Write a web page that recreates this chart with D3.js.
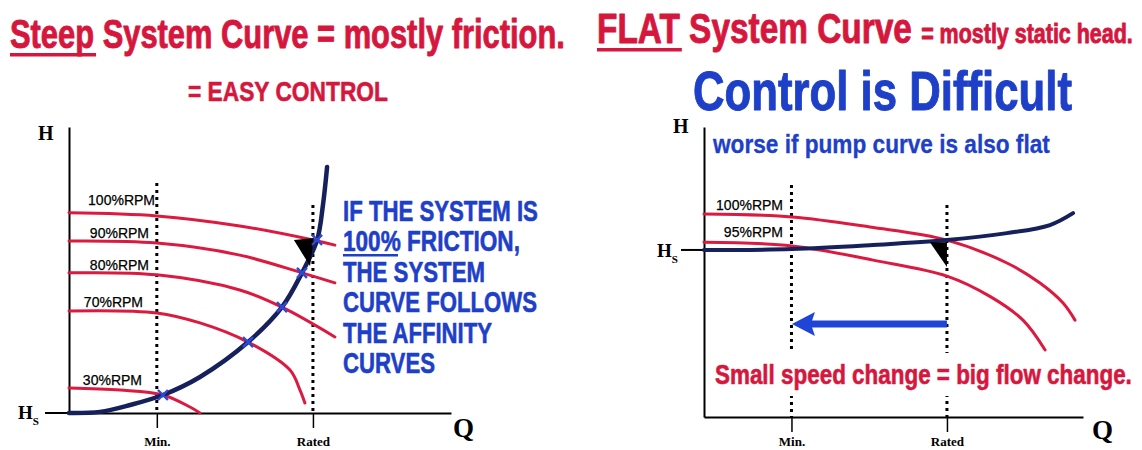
<!DOCTYPE html>
<html>
<head>
<meta charset="utf-8">
<script src="https://cdn.jsdelivr.net/npm/d3@7"></script>
<style>
  body { margin: 0; background: #fff; }
  svg { display: block; }
</style>
</head>
<body>
<div id="chart"></div>
<script>
// ---- data (Q = % of rated flow, H = head units) ----
const qTicks = [36, 100];
const qTickLabels = ["Min.", "Rated"];

// left: steep system curve
const pump100L = [[0,70],[36,68.9],[70,65.4],[100,60.5],[109,58.7]];
const pump90L  = [[0,60.1],[36,59.4],[70,55.2],[95.5,49],[109,45.5]];
const pump80L  = [[0,49],[36,48.3],[70,43],[87.3,37],[109,26.6]];
const pump70L  = [[0,35.7],[36,35],[53.7,31.5],[73.4,24.8],[90.6,15],[94.7,8],[96.7,3.5]];
const pump30L  = [[0,8.7],[21,8],[38.5,6.3],[49.6,2.1],[53.7,0]];
const pumpNamesL = ["100%RPM", "90%RPM", "80%RPM", "70%RPM", "30%RPM"];
const systemL = [[0,0],[12.7,0.4],[25,2.8],[38.5,6.3],[53.7,12.6],[73.4,24.8],[87.3,37],[95.5,49],[101.7,60.5],[104.1,72.7],[105.8,86]];
const crossL = [[38.5,6.3],[73.4,24.8],[87.3,37],[95.5,49],[101.7,60.5]];
const wedgeL = [[92.2,60.5],[100.4,61.2],[98.8,51.4]];
const guideTopL = [80.4, 72.7];

// right: flat system curve
const pump100R = [[0,70],[36.2,69],[68.3,65.5],[100,61],[124.7,53.1],[138.3,46.2],[147.8,39.3],[152.7,33.4]];
const pump95R  = [[0,60.3],[36.2,59],[69.6,54.1],[100,48.6],[117.7,41.6],[131.3,33.4],[140.4,23.1]];
const pumpNamesR = ["100%RPM", "95%RPM"];
const systemR = [[0,57.6],[36.2,57.9],[69.6,59.3],[100,61],[124.7,63.4],[142.4,66.2],[151.9,70.3]];
const staticHeadR = 57.6;
const wedgeR = [[93,60.3],[100,60.3],[100,51.7]];
const guideTopR = [80, 73.1];
const flowShiftR = { from: 100, to: 36.2, h: 32.1 };

const blockLines = ["IF THE SYSTEM IS", "100% FRICTION,", "THE SYSTEM", "CURVE FOLLOWS", "THE AFFINITY", "CURVES"];

// ---- styles ----
const RED = "#dc1a40";
const RED_TXT = "#d6173d";
const NAVY = "#16215c";
const BLUE = "#1e40c8";
const SANS = "'Liberation Sans',Arial,sans-serif";
const SERIF = "'Liberation Serif','Times New Roman',serif";

const svg = d3.select("#chart").append("svg")
    .attr("width", 1142)
    .attr("height", 450);

// text squeezed horizontally to a given width (narrow-font look)
function fit(g, parts, x, y, width, o) {
    const t = g.append("text")
        .attr("font-family", o.family || SANS)
        .attr("font-weight", o.weight || "bold")
        .attr("fill", o.fill || "#000")
        .attr("stroke", o.fill || "#000")
        .attr("stroke-width", o.heavy || 0.6)
        .attr("stroke-linejoin", "round");
    parts.forEach(p => t.append("tspan").attr("font-size", p[1]).text(p[0]));
    const k = width / t.node().getComputedTextLength();
    t.attr("transform", `translate(${x},${y}) scale(${k},1)`);
    return { t, k };
}

function txt(g, s, x, y, o) {
    return g.append("text")
        .attr("x", x).attr("y", y)
        .attr("font-family", o.family || SANS)
        .attr("font-weight", o.weight || "bold")
        .attr("font-size", o.size)
        .attr("fill", o.fill || "#000")
        .attr("text-anchor", o.anchor || "start")
        .text(s);
}

// underline the first n characters of a fitted text
function underline(g, f, n, x, y, fill) {
    const node = f.t.node();
    const w = node.getEndPositionOfChar(n - 1).x * f.k;
    g.append("rect").attr("x", x).attr("y", y).attr("width", w + 2).attr("height", 3.5).attr("fill", fill);
}

function hsLabel(g, x, y) {
    const t = g.append("text").attr("x", x).attr("y", y)
        .attr("font-family", SERIF).attr("font-weight", "bold").attr("fill", "#000");
    t.append("tspan").attr("font-size", 19).text("H");
    t.append("tspan").attr("font-size", 11).attr("dy", 6).text("S");
}

function drawAxes(g, x, y, yBase) {
    g.append("g")
        .attr("transform", `translate(0,${yBase})`)
        .call(d3.axisBottom(x).tickValues(qTicks).tickSize(15).tickSizeOuter(0)
            .tickFormat((d, i) => qTickLabels[i]))
        .call(a => a.select(".domain").attr("stroke-width", 2))
        .call(a => a.selectAll(".tick line").attr("stroke-width", 1.5))
        .call(a => a.selectAll(".tick text")
            .attr("y", 446 - yBase).attr("dy", 0).attr("font-family", SERIF).attr("font-weight", "bold")
            .attr("font-size", 13).attr("fill", "#000"));
    g.append("g")
        .attr("transform", `translate(${x(0)},0)`)
        .call(d3.axisLeft(y).tickValues([]).tickSizeOuter(0))
        .call(a => a.select(".domain").attr("stroke-width", 2));
}

function guides(g, x, y, tops) {
    qTicks.forEach((q, i) => {
        g.append("line")
            .attr("x1", x(q)).attr("x2", x(q))
            .attr("y1", y(tops[i])).attr("y2", y.range()[0])
            .attr("stroke", "#000").attr("stroke-width", 3)
            .attr("stroke-dasharray", "3,4");
    });
}

function curve(g, x, y, pts, color, w) {
    const line = d3.line().x(d => x(d[0])).y(d => y(d[1])).curve(d3.curveCatmullRom.alpha(0.5));
    g.append("path").attr("d", line(pts))
        .attr("fill", "none").attr("stroke", color).attr("stroke-width", w)
        .attr("stroke-linecap", "round");
}

function wedge(g, x, y, pts) {
    g.append("path")
        .attr("d", "M" + pts.map(d => [x(d[0]), y(d[1])].join(",")).join("L") + "Z")
        .attr("fill", "#000");
}

// ================= LEFT PANEL =================
const L = svg.append("g");
const xL = d3.scaleLinear().domain([0, 156.6]).range([69, 451]);
const yL = d3.scaleLinear().domain([0, 100]).range([413, 127]);

const tL = fit(L, [["Steep", 40], [" System Curve = mostly friction.", 40]], 10, 48, 555, { fill: RED_TXT, heavy: 0.9 });
underline(L, tL, 5, 10, 53, RED_TXT);
fit(L, [["= EASY CONTROL", 28]], 188, 101, 200, { fill: RED_TXT });

drawAxes(L, xL, yL, 413);
L.append("line").attr("x1", 45).attr("x2", xL(0)).attr("y1", yL(0)).attr("y2", yL(0))
    .attr("stroke", "#000").attr("stroke-width", 2);
hsLabel(L, 18, 419);
txt(L, "H", 38, 140, { family: SERIF, size: 20 });
txt(L, "Q", 453, 437, { family: SERIF, size: 27 });

guides(L, xL, yL, guideTopL);

const pumpsL = [pump100L, pump90L, pump80L, pump70L, pump30L];
const labelPosL = [[155, 205], [149, 238], [149, 270], [143, 307], [142, 385]];
pumpsL.forEach((p, i) => {
    curve(L, xL, yL, p, RED, 3);
    txt(L, pumpNamesL[i], labelPosL[i][0], labelPosL[i][1],
        { weight: "normal", size: 14, anchor: "end" })
        .attr("stroke", "#000").attr("stroke-width", 0.25);
});

curve(L, xL, yL, systemL, NAVY, 4.5);
wedge(L, xL, yL, wedgeL);

crossL.forEach(d => {
    const cx = xL(d[0]), cy = yL(d[1]);
    L.append("path")
        .attr("d", `M${cx-5},${cy-5}L${cx+5},${cy+5}M${cx-5},${cy+5}L${cx+5},${cy-5}`)
        .attr("stroke", "#2b4ad8").attr("stroke-width", 2.4);
});

const blockLen = [195, 177, 142, 194, 149, 92];
blockLines.forEach((s, i) => {
    fit(L, [[s, 29]], 343, 221 + i * 30.4, blockLen[i], { fill: BLUE });
});
L.append("rect").attr("x", 343).attr("y", 254).attr("width", 55).attr("height", 2.5).attr("fill", BLUE);

// ================= RIGHT PANEL =================
const R = svg.append("g");
const xR = d3.scaleLinear().domain([0, 156]).range([704, 1083]);
const yR = d3.scaleLinear().domain([0, 100]).range([417, 127]);

const tR = fit(R, [["FLAT", 42], [" System Curve ", 42], ["= mostly static head.", 27]], 597, 43, 536, { fill: RED_TXT, heavy: 0.9 });
underline(R, tR, 4, 597, 48, RED_TXT);
fit(R, [["Control is Difficult", 56]], 693, 110, 379, { fill: BLUE, heavy: 1 });
fit(R, [["worse if pump curve is also flat", 25]], 713, 153, 337, { fill: BLUE, heavy: 0.3 });

drawAxes(R, xR, yR, 417);
R.append("line").attr("x1", 681).attr("x2", xR(0)).attr("y1", yR(staticHeadR)).attr("y2", yR(staticHeadR))
    .attr("stroke", "#000").attr("stroke-width", 2);
hsLabel(R, 657, 257);
txt(R, "H", 673, 133, { family: SERIF, size: 20 });
txt(R, "Q", 1092, 439, { family: SERIF, size: 27 });

guides(R, xR, yR, guideTopR);

const pumpsR = [pump100R, pump95R];
const labelPosR = [[783, 210], [783, 237]];
pumpsR.forEach((p, i) => {
    curve(R, xR, yR, p, RED, 3);
    txt(R, pumpNamesR[i], labelPosR[i][0], labelPosR[i][1],
        { weight: "normal", size: 14, anchor: "end" })
        .attr("stroke", "#000").attr("stroke-width", 0.25);
});
curve(R, xR, yR, systemR, NAVY, 4);
wedge(R, xR, yR, wedgeR);

// flow shift arrow
const ay = yR(flowShiftR.h), ax0 = xR(flowShiftR.from), ax1 = xR(flowShiftR.to);
R.append("line").attr("x1", ax0).attr("x2", ax1 + 18).attr("y1", ay).attr("y2", ay)
    .attr("stroke", "#1f45d6").attr("stroke-width", 7);
R.append("path")
    .attr("d", `M${ax1},${ay}L${ax1 + 23},${ay - 12}L${ax1 + 19},${ay}L${ax1 + 23},${ay + 12}Z`)
    .attr("fill", "#1f45d6");

R.append("rect").attr("x", 712).attr("y", 353).attr("width", 426).attr("height", 43).attr("fill", "#fff");
fit(R, [["Small speed change = big flow change.", 27]], 715, 384, 417, { fill: RED_TXT });
</script>
</body>
</html>
